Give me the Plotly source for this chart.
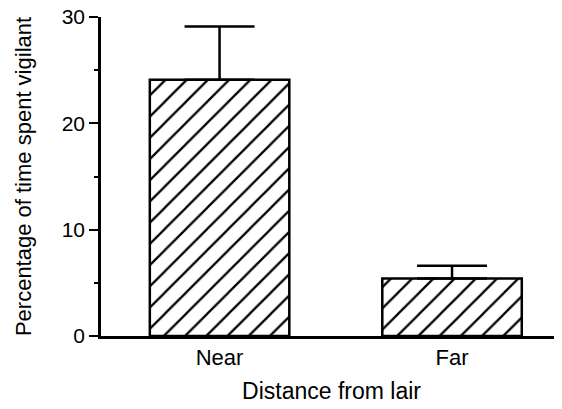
import plotly.graph_objects as go

# =====================================================
# DATA
# =====================================================

categories = ["Near", "Far"]
vigilance_pct = [24.1, 5.4]
error_upper = [5.0, 1.2]
y_ticks = [0, 10, 20, 30]

FONT = "Liberation Sans, Arial, Helvetica, sans-serif"

x_pos = list(range(len(categories)))

fig = go.Figure()

fig.add_trace(
    go.Bar(
        x=x_pos,
        y=vigilance_pct,
        width=0.6,
        marker=dict(
            color="white",
            line=dict(color="black", width=2.5),
            pattern=dict(
                shape="/",
                fgcolor="black",
                fgopacity=1,
                bgcolor="white",
                size=15,
                solidity=0.15,
            ),
        ),
        error_y=dict(
            type="data",
            symmetric=False,
            array=error_upper,
            arrayminus=[0] * len(error_upper),
            color="black",
            thickness=2.5,
            width=35,
        ),
        showlegend=False,
    )
)

# the page body adds an 8px offset, so the figure is 8px smaller
fig.update_layout(
    width=554,
    height=401,
    margin=dict(l=93, r=0, t=9, b=73),
    plot_bgcolor="white",
    paper_bgcolor="white",
    font=dict(family=FONT, size=22, color="black"),
)

fig.update_xaxes(
    range=[-0.51, 1.473],
    tickvals=x_pos,
    ticktext=categories,
    showline=True,
    linecolor="black",
    linewidth=2.5,
    ticks="",
    showgrid=False,
    zeroline=False,
    automargin=False,
    title=dict(text="Distance from lair", standoff=14,
               font=dict(size=23)),
)

fig.update_yaxes(
    range=[0, 30],
    tickvals=y_ticks,
    tickfont=dict(size=21),
    ticklabeloverflow="allow",
    showline=True,
    linecolor="black",
    linewidth=2.5,
    ticks="outside",
    ticklen=9,
    tickwidth=2,
    tickcolor="black",
    minor=dict(ticks="outside", dtick=5, ticklen=4, tickwidth=2,
               tickcolor="black"),
    showgrid=False,
    zeroline=False,
    automargin=False,
    title=dict(text="Percentage of time spent vigilant", standoff=24,
               font=dict(size=22)),
)

fig.write_html("out.html")
